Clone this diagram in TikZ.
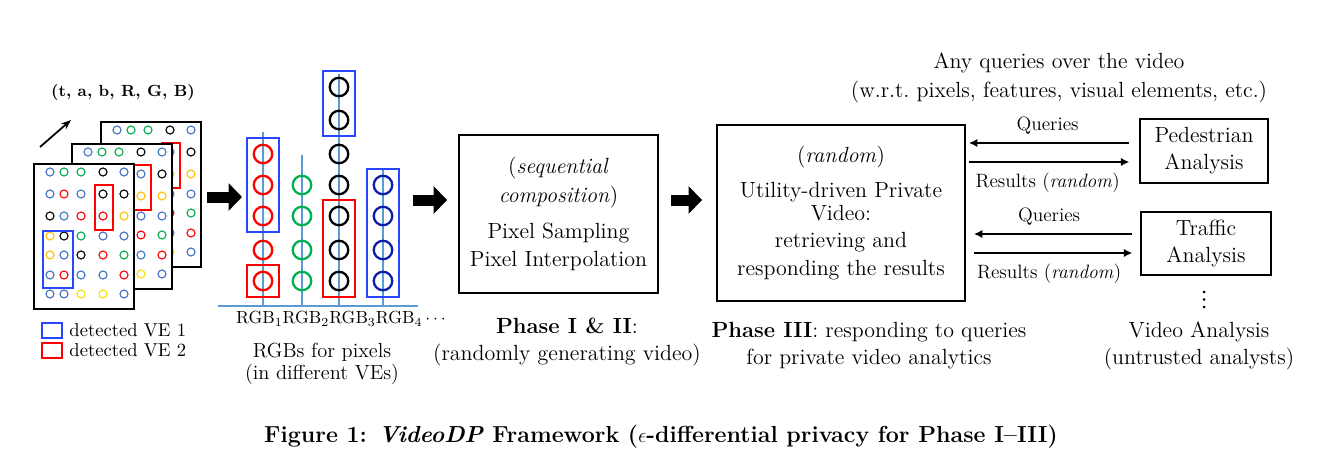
\documentclass[tikz,border=0pt]{standalone}
\usepackage{fontspec}
\usetikzlibrary{positioning,calc,fit,arrows.meta}

\definecolor{pixblue}{RGB}{68,114,196}
\definecolor{pixgreen}{RGB}{0,176,80}
\definecolor{pixred}{RGB}{255,0,0}
\definecolor{pixorange}{RGB}{255,192,0}
\definecolor{pixyellow}{RGB}{240,230,0}
\definecolor{vered}{RGB}{255,0,0}
\definecolor{veblue}{RGB}{40,70,255}
\definecolor{rgbblue}{RGB}{10,30,170}
\definecolor{stemblue}{RGB}{91,155,213}

\newcommand{\mainsize}{\fontsize{12.5}{15.5}\selectfont}
\newcommand{\labelsize}{\fontsize{11}{13}\selectfont}
\newcommand{\legendsize}{\fontsize{10.6}{12.5}\selectfont}
\newcommand{\rgbsize}{\fontsize{10}{12}\selectfont}
\newcommand{\notesize}{\fontsize{11.6}{12.8}\selectfont}

% couleurs des pixels, ligne par ligne
\def\gridfront{{pixblue,pixgreen,pixgreen,black,pixblue},%
{pixblue,pixred,pixblue,black,black},%
{black,pixblue,pixred,pixred,pixorange},%
{pixorange,black,pixgreen,pixblue,pixblue},%
{pixorange,pixblue,black,pixred,pixgreen},%
{pixblue,pixred,pixblue,pixblue,pixred},%
{pixblue,pixblue,pixyellow,pixyellow,pixblue}}
\def\gridback{{pixblue,pixgreen,pixgreen,black,pixblue},%
{pixblue,pixred,pixblue,pixblue,black},%
{black,pixblue,pixred,pixorange,pixorange},%
{pixorange,black,pixgreen,pixblue,pixblue},%
{pixorange,pixblue,black,pixred,pixgreen},%
{pixblue,pixred,pixblue,pixblue,pixred},%
{pixblue,pixblue,pixyellow,pixyellow,pixblue}}

\newcommand{\videoframe}[3]{% origine, couleurs
  \begin{scope}[shift={(#1,#2)}]
    \draw[video_frame] (0,0) rectangle (100,145);
    \foreach \rowcols [count=\rj] in #3 {
      \pgfmathsetmacro\ry{{8,30,52,72,91,111,130}[\rj-1]}
      \foreach \pcol [count=\ci] in \rowcols {
        \pgfmathsetmacro\cx{{16,30,47,69,90}[\ci-1]}
        \node[pixel, draw=\pcol] at (\cx,\ry) {};
      }
    }
    \draw[ve_line, vered] (61,21) rectangle (79,66); % VE 2
    \draw[ve_line, veblue] (9,67) rectangle (39,124); % VE 1
  \end{scope}}

\begin{document}
\begin{tikzpicture}[x=0.02cm,y=-0.02cm,font=\mainsize]
	\tikzstyle{pixel}=[circle, minimum size=0.16cm, inner sep=0pt, line width=0.65pt]
	\tikzstyle{video_frame}=[draw, line width=1.4pt, fill=white]
	\tikzstyle{ve_line}=[line width=1.1pt]
	\tikzstyle{rgb_circle}=[circle, minimum size=0.37cm, inner sep=0pt, line width=1.3pt]
	\tikzstyle{ve_box}=[draw, line width=1.1pt, inner sep=0.12cm]
	\tikzstyle{stem_line}=[draw=stemblue, line width=0.6pt]
	\tikzstyle{legend_box}=[draw, line width=1.3pt, minimum width=0.4cm, minimum height=0.3cm, inner sep=0pt]
	\tikzstyle{phase_box}=[draw, line width=1.1pt, align=center]
	\tikzstyle{analysis_box}=[draw, line width=0.8pt, align=center]
	\tikzstyle{big_arrow}=[line width=0.22cm, -{Triangle[length=0.27cm, width=0.54cm]}]
	\tikzstyle{query_arrow}=[line width=1.5pt, -{Latex[length=0.17cm, width=0.17cm]}]
	\tikzstyle{dot}=[circle, fill=black, minimum size=0.06cm, inner sep=0pt]
	\useasboundingbox (0,0) rectangle (1323,463);

	% les trois images
	\videoframe{101}{122}{\gridback}
	\videoframe{72}{144}{\gridback}
	\videoframe{34}{164}{\gridfront}
	\node[font=\bfseries\fontsize{9.2}{11}\selectfont] (tuple) at (123,92) {(t, a, b, R, G, B)};
	\coordinate (dir_s) at (40,147);
	\coordinate (dir_e) at (71,120);
	\draw[line width=1pt, -{Stealth[length=0.2cm]}] (dir_s) -- (dir_e);

	% legende
	\node[legend_box, draw=veblue] (leg1) at (52,330.5) {};
	\node[legend_box, draw=vered] (leg2) at (52,350.5) {};
	\node[right=0.12cm of leg1, inner sep=0pt, font=\legendsize] (leg1txt) {detected VE 1};
	\node[right=0.12cm of leg2, inner sep=0pt, font=\legendsize] (leg2txt) {detected VE 2};

	% colonnes RGB
	\draw[stem_line] (218,306) -- (418,306); % base
	\draw[stem_line] (263,132) -- (263,306);
	\draw[stem_line] (302,155) -- (302,306);
	\draw[stem_line] (339,74) -- (339,306);
	\draw[stem_line] (383,170) -- (383,306);
	\foreach \k/\y in {1/281,2/250,3/216,4/185,5/154}
		\node[rgb_circle, draw=pixred] (ra\k) at (263,\y) {};
	\foreach \k/\y in {1/281,2/250,3/216,4/185}
		\node[rgb_circle, draw=pixgreen] (rb\k) at (302,\y) {};
	\foreach \k/\y in {1/281,2/250,3/216,4/185,5/154,6/120,7/87}
		\node[rgb_circle, draw=black] (rc\k) at (339,\y) {};
	\foreach \k/\y in {1/281,2/250,3/216,4/185}
		\node[rgb_circle, draw=rgbblue] (rd\k) at (383,\y) {};
	\node[ve_box, draw=veblue, fit=(ra3)(ra5)] (vea1) {};
	\node[ve_box, draw=vered, fit=(ra1)] (vea2) {};
	\node[ve_box, draw=veblue, fit=(rc6)(rc7)] (vec1) {};
	\node[ve_box, draw=vered, fit=(rc1)(rc3)] (vec2) {};
	\node[ve_box, draw=veblue, fit=(rd1)(rd4)] (ved1) {};
	\node[font=\rgbsize] (rgblab) at (341,319) {RGB$_1$RGB$_2$RGB$_3$RGB$_4$\,$\cdots$};
	\node[align=center, font=\notesize] (rgbnote) at (322,364) {RGBs for pixels\\(in different VEs)};

	% phases
	\node[phase_box, minimum width=3.98cm, minimum height=3.16cm] (box1) at (558.5,214)
		{(\textit{sequential}\\[1pt]\textit{composition})\\[5pt]Pixel Sampling\\Pixel Interpolation};
	\node[phase_box, minimum width=4.96cm, minimum height=3.52cm] (box2) at (841,213)
		{(\textit{random})\\[4pt]Utility-driven Private\\[-2pt]Video:\\retrieving and\\responding the results};
	\node[align=center] (phase12) at (567,342) {\textbf{Phase I \& II}:\\(randomly generating video)};
	\node[align=center] (phase3) at (869,346) {\textbf{Phase III}: responding to queries\\for private video analytics};

	% fleches epaisses
	\coordinate (frames_out) at (207,197);
	\coordinate (rgb_in) at (242,197);
	\coordinate (rgb_out) at (413,200);
	\draw[big_arrow] (frames_out) -- (rgb_in);
	\draw[big_arrow] (rgb_out) -- ($(box1.west)+(-11,-14)$);
	\draw[big_arrow] ($(box1.east)+(12,-14)$) -- ($(box2.west)+(-14,-13)$);

	% analyses
	\node[align=center] (anyq) at (1059,77.5) {Any queries over the video\\[1pt](w.r.t.\ pixels, features, visual elements, etc.)};
	\node[analysis_box, minimum width=2.56cm, minimum height=1.28cm] (ped) at (1204,151) {Pedestrian\\Analysis};
	\node[analysis_box, minimum width=2.6cm, minimum height=1.26cm] (traf) at (1206,243.5) {Traffic\\Analysis};
	\coordinate (q1) at ($(ped.west)+(-10,-8)$);
	\coordinate (r1) at ($(ped.west)+(-10,11)$);
	\coordinate (q2) at ($(traf.west)+(-8,-9.5)$);
	\coordinate (r2) at ($(traf.west)+(-8,9.5)$);
	\draw[query_arrow, shorten >=0.06cm] (q1) -- (q1 -| box2.east) node[midway, above=1pt, font=\labelsize] {Queries};
	\draw[query_arrow, shorten <=0.06cm] (r1 -| box2.east) -- (r1) node[midway, below=2pt, font=\labelsize] {Results (\textit{random})};
	\draw[query_arrow, shorten >=0.16cm] (q2) -- (q2 -| box2.east) node[midway, above=1pt, font=\labelsize] {Queries};
	\draw[query_arrow, shorten <=0.16cm] (r2 -| box2.east) -- (r2) node[midway, below=2pt, font=\labelsize] {Results (\textit{random})};
	\foreach \y in {292,299.5,307}
		\node[dot] at (1204,\y) {}; % points de suspension
	\node[align=center] (analysts) at (1199,346) {Video Analysis\\(untrusted analysts)};

	% legende de la figure
	\node[font=\bfseries\fontsize{13.2}{16}\selectfont] (caption) at (661,437)
		{Figure 1: \textit{VideoDP} Framework ($\epsilon$-differential privacy for Phase I--III)};
\end{tikzpicture}
\end{document}
